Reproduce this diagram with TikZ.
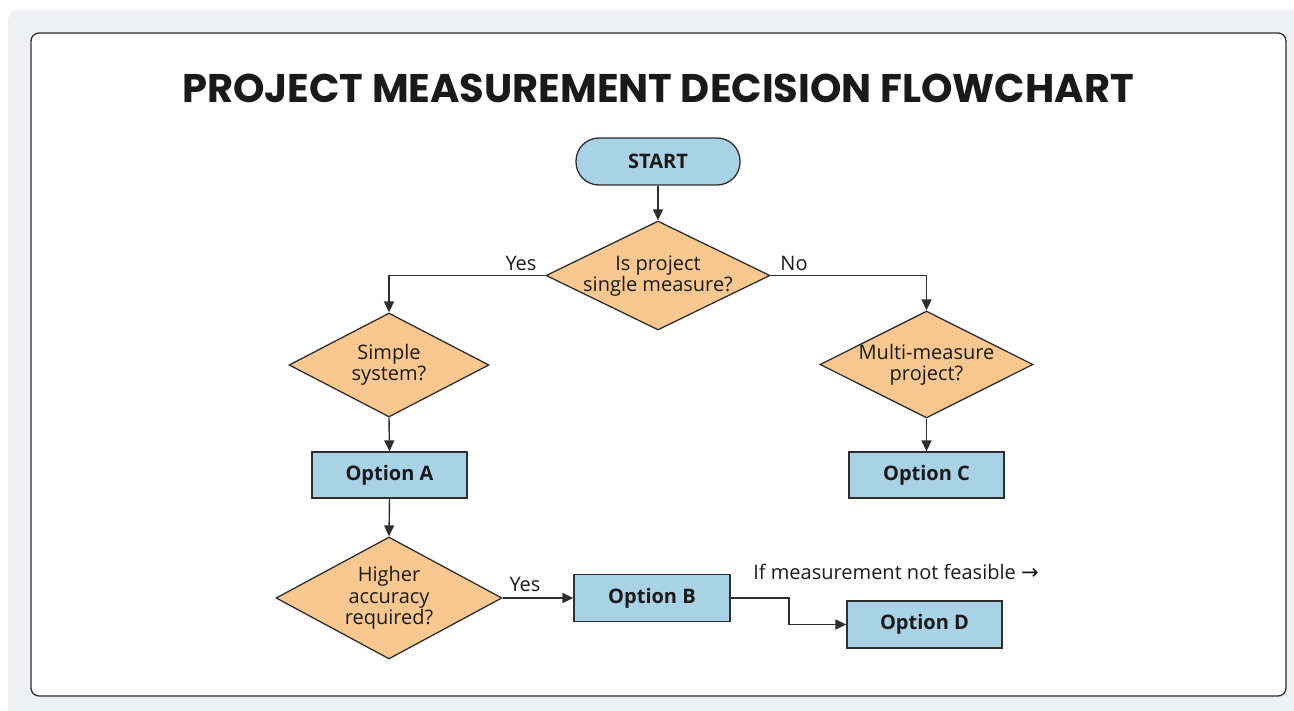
\documentclass[tikz,border=0pt]{standalone}
\usepackage{fontspec}
\setmainfont{Open Sans}
\newfontfamily\titlefont{Poppins}
\newfontfamily\symfont{DejaVu Sans}
\usetikzlibrary{shapes.geometric,arrows.meta,positioning}
\definecolor{panelgray}{HTML}{EEF0F3}
\definecolor{edgegray}{HTML}{2E2E2E}
\definecolor{boxblue}{HTML}{A9D2E7}
\definecolor{diaorange}{HTML}{F9C891}
\definecolor{inkdark}{HTML}{1A1A1A}
\begin{document}
\begin{tikzpicture}[x=1pt,y=-1pt,
  every node/.style={text=inkdark},
  txt/.style={font=\fontsize{20}{21.5}\selectfont, align=center, inner sep=0pt},
  lbl/.style={font=\fontsize{20}{21.5}\selectfont, inner sep=0pt},
  term/.style={draw=edgegray, line width=1.3pt, fill=boxblue, rounded corners=23pt, minimum width=164pt, minimum height=47pt, inner sep=0pt, font=\fontsize{20}{21}\selectfont\bfseries},
  optbox/.style={draw=edgegray, line width=1.3pt, fill=boxblue, minimum width=155pt, minimum height=46pt, inner sep=0pt, font=\fontsize{20}{21}\selectfont\bfseries},
  dia/.style={draw=edgegray, line width=1.3pt, fill=diaorange, shape=diamond, inner sep=0pt},
  conn/.style={draw=edgegray, line width=1.4pt, -{Triangle[length=11pt,width=10pt]}},
  plain/.style={draw=edgegray, line width=1.4pt}
]
\useasboundingbox (0,0) rectangle (1294,711);
% background panel and card
\fill[panelgray, rounded corners=10pt] (8,10) rectangle (1310,730);
\draw[edgegray, line width=1.3pt, fill=white, rounded corners=8pt] (31,33) rectangle (1286,696);

% title
\node[inner sep=0pt, font=\titlefont\bfseries\fontsize{40}{44}\selectfont] (title) at (658,88) {PROJECT MEASUREMENT DECISION FLOWCHART};

% nodes
\node[term] (start) at (658,161.5) {START};

\node[dia, minimum width=224pt, minimum height=109pt] (d1) at (658,275.5) {};
\node[txt] (d1t) at (658,276) {Is project\\single measure?};

\node[dia, minimum width=200pt, minimum height=104pt] (d2) at (389,365) {};
\node[txt] (d2t) at (389,365) {Simple\\system?};

\node[dia, minimum width=213pt, minimum height=107pt] (d3) at (926.5,364.5) {};
\node[txt] (d3t) at (926.5,365) {Multi-measure\\project?};

\node[optbox] (oa) at (389.5,475) {Option A};
\node[optbox] (oc) at (926.5,475) {Option C};

\node[dia, minimum width=226pt, minimum height=122pt] (d4) at (389,598) {};
\node[txt] (d4t) at (389,598) {Higher\\accuracy\\required?};

\node[optbox, minimum width=156pt, minimum height=47pt] (ob) at (652,598) {Option B};
\node[optbox, minimum height=47pt] (od) at (924.5,624.5) {Option D};

\node[lbl] (note) at (896,572) {If measurement not feasible {\symfont\fontsize{21}{21}\selectfont →}};

% connectors
\draw[conn] (start.south) -- (d1.north);
\draw[conn] (d1.west) -- (d2.north |- d1.west) -- (d2.north);
\node[lbl, anchor=south] (yes1) at (521,271) {Yes};
\draw[conn] (d1.east) -- (d3.north |- d1.east) -- (d3.north);
\node[lbl, anchor=south] (no1) at (794,271) {No};
\draw[conn] (d2.south) -- (oa.north);
\draw[conn] (d3.south) -- (oc.north);
\draw[conn] (oa.south) -- (d4.north);
\draw[conn] (d4.east) -- (ob.west);
\node[lbl, anchor=south] (yes2) at (525,592) {Yes};
\coordinate (bend) at (789,598);
\draw[conn] (ob.east) -- (bend) |- (od.west);
\end{tikzpicture}
\end{document}
